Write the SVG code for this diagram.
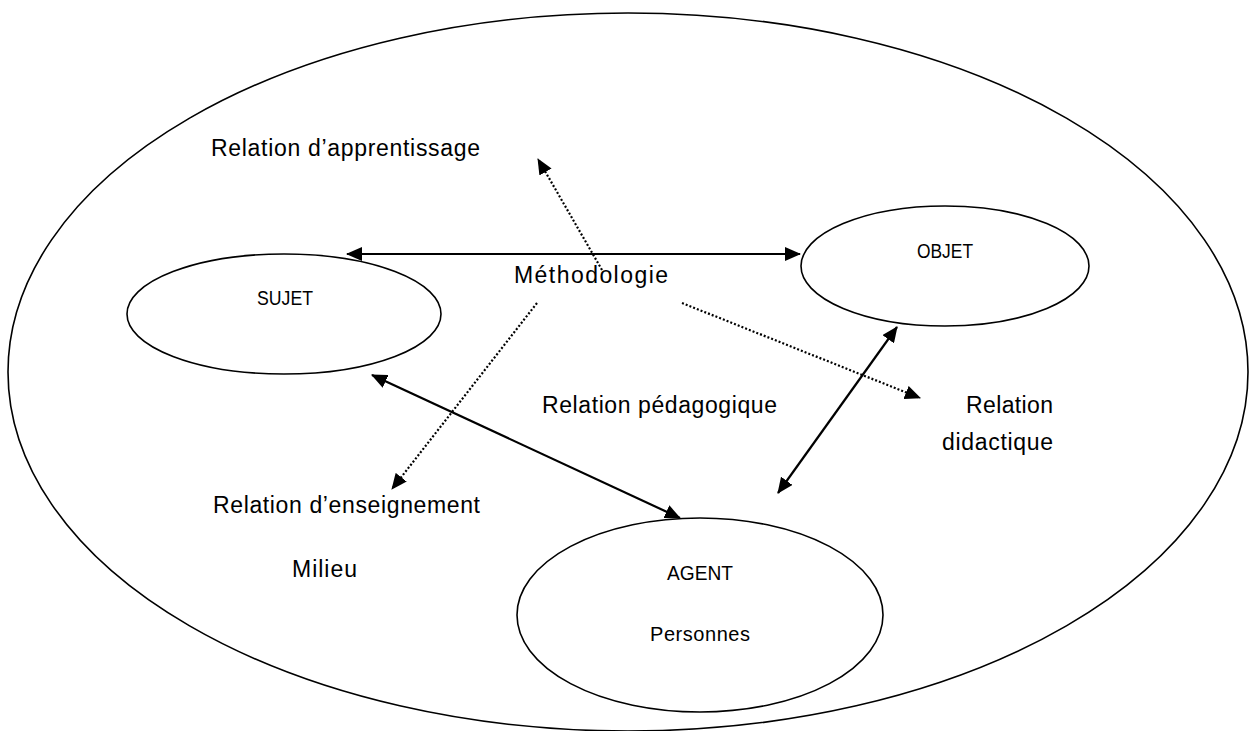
<svg xmlns="http://www.w3.org/2000/svg" width="1249" height="731" viewBox="0 0 1249 731">
<style>
.el{fill:none;stroke:#000;stroke-width:1.6}
.big{font-family:"Liberation Sans",Arial,sans-serif;font-size:23px;fill:#000}
.sm{font-family:"Liberation Sans",Arial,sans-serif;font-size:20px;fill:#000}
.solid{stroke:#000;stroke-width:2.2;fill:none}
.dot{stroke:#000;stroke-width:2.2;stroke-dasharray:2 2;fill:none}
</style>
<defs>
<marker id="ah" markerUnits="userSpaceOnUse" markerWidth="16" markerHeight="14" viewBox="0 0 16 14" refX="15" refY="7" orient="auto-start-reverse">
<path d="M0,0 L16,7 L0,14 z" fill="#000"/>
</marker>
</defs>
<rect width="1249" height="731" fill="#fff"/>
<g id="milieu">
<ellipse class="el" cx="628" cy="372" rx="620" ry="359"/>
<text class="big" x="292" y="577" textLength="65">Milieu</text>
</g>
<g id="sujet">
<ellipse class="el" cx="284" cy="314" rx="157" ry="60"/>
<text class="sm" x="257" y="305" textLength="56" lengthAdjust="spacingAndGlyphs">SUJET</text>
</g>
<g id="objet">
<ellipse class="el" cx="945" cy="266" rx="144" ry="60"/>
<text class="sm" x="917" y="258" textLength="56" lengthAdjust="spacingAndGlyphs">OBJET</text>
</g>
<g id="agent">
<ellipse class="el" cx="700" cy="615" rx="183" ry="97"/>
<text class="sm" x="667" y="580" textLength="66" lengthAdjust="spacingAndGlyphs">AGENT</text>
<text class="sm" x="650" y="641" textLength="100">Personnes</text>
</g>
<g id="connectors">
<line class="solid" x1="347" y1="254" x2="800" y2="254" marker-start="url(#ah)" marker-end="url(#ah)"/>
<line class="solid" x1="372" y1="375" x2="680" y2="518" marker-start="url(#ah)" marker-end="url(#ah)"/>
<line class="solid" x1="897" y1="327" x2="778" y2="493" marker-start="url(#ah)" marker-end="url(#ah)"/>
<line class="dot" x1="602" y1="270" x2="538" y2="159" marker-end="url(#ah)"/>
<line class="dot" x1="537" y1="303" x2="392" y2="489" marker-end="url(#ah)"/>
<line class="dot" x1="682" y1="303" x2="920" y2="398" marker-end="url(#ah)"/>
</g>
<g id="labels">
<text class="big" x="211" y="156" textLength="269">Relation d’apprentissage</text>
<text class="big" x="514" y="283" textLength="154">Méthodologie</text>
<text class="big" x="542" y="413" textLength="235">Relation pédagogique</text>
<text class="big" x="966" y="413" textLength="87">Relation</text>
<text class="big" x="942" y="450" textLength="111">didactique</text>
<text class="big" x="213" y="513" textLength="267">Relation d’enseignement</text>
</g>
</svg>
